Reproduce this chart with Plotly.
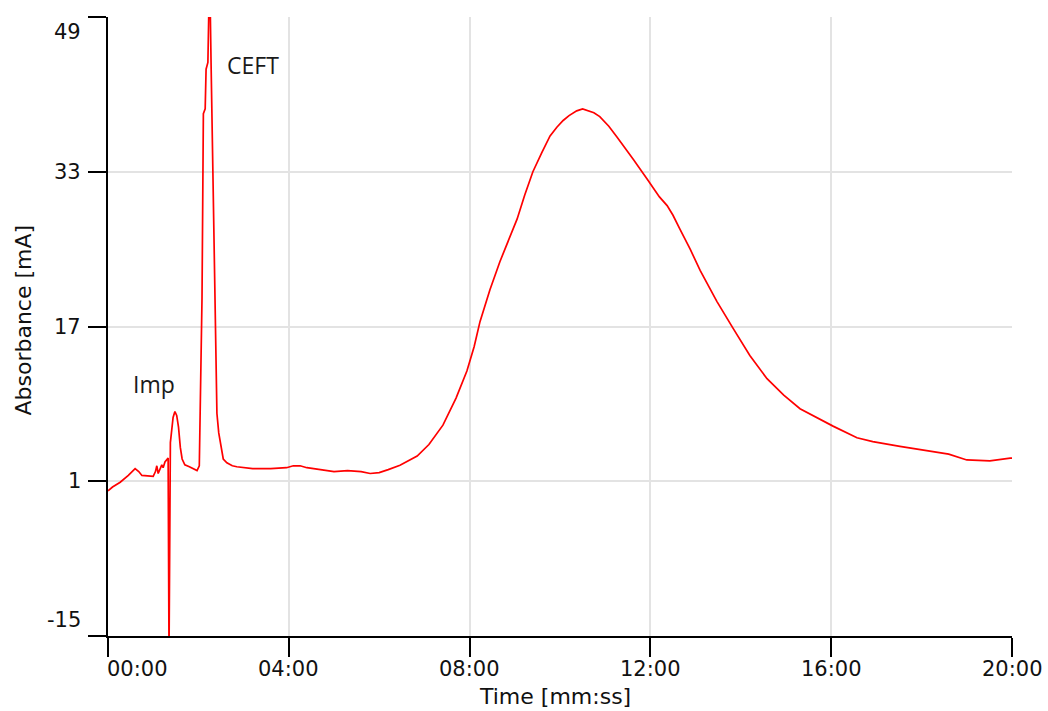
import plotly.graph_objects as go

# Time in minutes, absorbance in mA
time_min = [0.00, 0.10, 0.27, 0.45, 0.60, 0.68, 0.75, 0.90, 1.00, 1.05, 1.08, 1.11, 1.16, 1.19,
            1.22, 1.26, 1.33, 1.35, 1.38, 1.44, 1.48, 1.52, 1.56, 1.60, 1.64, 1.70, 1.80, 1.90,
            1.97, 2.02, 2.08, 2.11, 2.15, 2.17, 2.21, 2.23, 2.26, 2.28, 2.32, 2.37, 2.41, 2.45,
            2.50, 2.55, 2.63, 2.75, 2.85, 3.20, 3.60, 3.95, 4.10, 4.25, 4.40, 4.70, 5.00, 5.30,
            5.60, 5.80, 6.00, 6.20, 6.46, 6.84, 7.10, 7.41, 7.70, 7.94, 8.10, 8.23, 8.45, 8.67,
            8.86, 9.05, 9.22, 9.40, 9.60, 9.78, 9.93, 10.07, 10.20, 10.37, 10.50, 10.62, 10.75,
            10.88, 11.08, 11.26, 11.44, 11.62, 11.95, 12.20, 12.37, 12.50, 12.65, 12.88, 13.10,
            13.47, 13.83, 14.20, 14.58, 14.95, 15.31, 15.70, 16.04, 16.57, 16.92, 17.52, 18.25,
            18.60, 19.00, 19.51, 19.96, 20.00]
absorbance = [0.0, 0.4, 0.9, 1.6, 2.3, 2.0, 1.6, 1.5, 1.5, 2.0, 2.6, 1.8, 2.4, 2.7,
              2.4, 3.0, 3.4, -17.0, 5.0, 7.6, 8.2, 7.8, 6.6, 4.5, 3.3, 2.7, 2.5, 2.3,
              2.1, 2.6, 20.0, 39.0, 39.5, 43.6, 44.3, 49.5, 50.5, 44.3, 33.5, 20.0, 8.0, 6.0,
              4.5, 3.3, 2.9, 2.6, 2.5, 2.3, 2.3, 2.4, 2.6, 2.6, 2.4, 2.2, 2.0, 2.1,
              2.0, 1.8, 1.9, 2.2, 2.65, 3.6, 4.8, 6.8, 9.6, 12.4, 14.9, 17.5, 20.8, 23.7,
              26.0, 28.1, 30.6, 33.0, 35.0, 36.7, 37.6, 38.3, 38.8, 39.3, 39.5, 39.3, 39.1,
              38.7, 37.7, 36.6, 35.5, 34.3, 32.1, 30.4, 29.5, 28.5, 27.1, 25.0, 22.8,
              19.6, 16.8, 14.0, 11.6, 9.9, 8.5, 7.5, 6.7, 5.5, 5.1, 4.6, 4.1,
              3.8, 3.2, 3.1, 3.4, 3.4]

x_ticks = [0, 4, 8, 12, 16, 20]
x_tick_labels = ["00:00", "04:00", "08:00", "12:00", "16:00", "20:00"]
y_ticks = [-15, 1, 17, 33, 49]
y_label_shift = {-15: 16, 1: 0, 17: 0, 33: 0, 49: -15}

peak_labels = ["Imp", "CEFT"]
peak_label_x = [1.02, 3.21]
peak_label_y = [11.1, 44.0]

x_title = "Time [mm:ss]"
y_title = "Absorbance [mA]"

fig = go.Figure()
fig.add_trace(go.Scatter(x=time_min, y=absorbance, mode="lines",
                         line=dict(color="#ff0000", width=1.7), showlegend=False,
                         hoverinfo="skip"))

tick_font = dict(family="DejaVu Sans", size=21, color="#111111")
title_font = dict(family="DejaVu Sans", size=22, color="#111111")

annotations = []
for v in y_ticks:
    annotations.append(dict(x=0, xref="paper", y=v, yref="y", text=str(v), showarrow=False,
                            xanchor="right", yanchor="middle", xshift=-25,
                            yshift=y_label_shift[v], font=tick_font))
for v, lab in zip(x_ticks, x_tick_labels):
    first = (v == x_ticks[0])
    annotations.append(dict(x=v, xref="x", y=0, yref="paper", text=lab, showarrow=False,
                            xanchor="left" if first else "center", yanchor="middle",
                            xshift=-3 if first else 0, yshift=-33, font=tick_font))
for t, px, py in zip(peak_labels, peak_label_x, peak_label_y):
    annotations.append(dict(x=px, y=py, xref="x", yref="y", text=t, showarrow=False,
                            xanchor="center", yanchor="middle",
                            font=dict(family="Open Sans", size=23, color="#1a1a1a")))
annotations.append(dict(x=0.5, xref="paper", y=0, yref="paper", text=x_title, showarrow=False,
                        xanchor="center", yanchor="middle", xshift=-5, yshift=-60,
                        font=title_font))
annotations.append(dict(x=0, xref="paper", y=0.5, yref="paper", text=y_title, showarrow=False,
                        xanchor="center", yanchor="middle", xshift=-85, yshift=6,
                        textangle=-90, font=title_font))

fig.update_layout(
    width=1048, height=711,
    margin=dict(l=108, r=36, t=17, b=75),
    paper_bgcolor="white", plot_bgcolor="white",
    annotations=annotations,
    xaxis=dict(range=[0, 20], tickvals=x_ticks, showticklabels=False,
               showgrid=True, gridcolor="#e3e3e3", gridwidth=2,
               showline=True, linecolor="black", linewidth=1.5,
               ticks="outside", ticklen=19, tickwidth=1.5, tickcolor="black",
               zeroline=False, fixedrange=True, automargin=False),
    yaxis=dict(range=[-15, 49], tickvals=y_ticks, showticklabels=False,
               showgrid=True, gridcolor="#e3e3e3", gridwidth=2,
               showline=True, linecolor="black", linewidth=1.5,
               ticks="outside", ticklen=18, tickwidth=1.5, tickcolor="black",
               zeroline=False, fixedrange=True, automargin=False),
)

fig.write_html("out.html", config={"displayModeBar": False},
               post_script="document.body.style.margin='0';document.body.style.padding='0';")
